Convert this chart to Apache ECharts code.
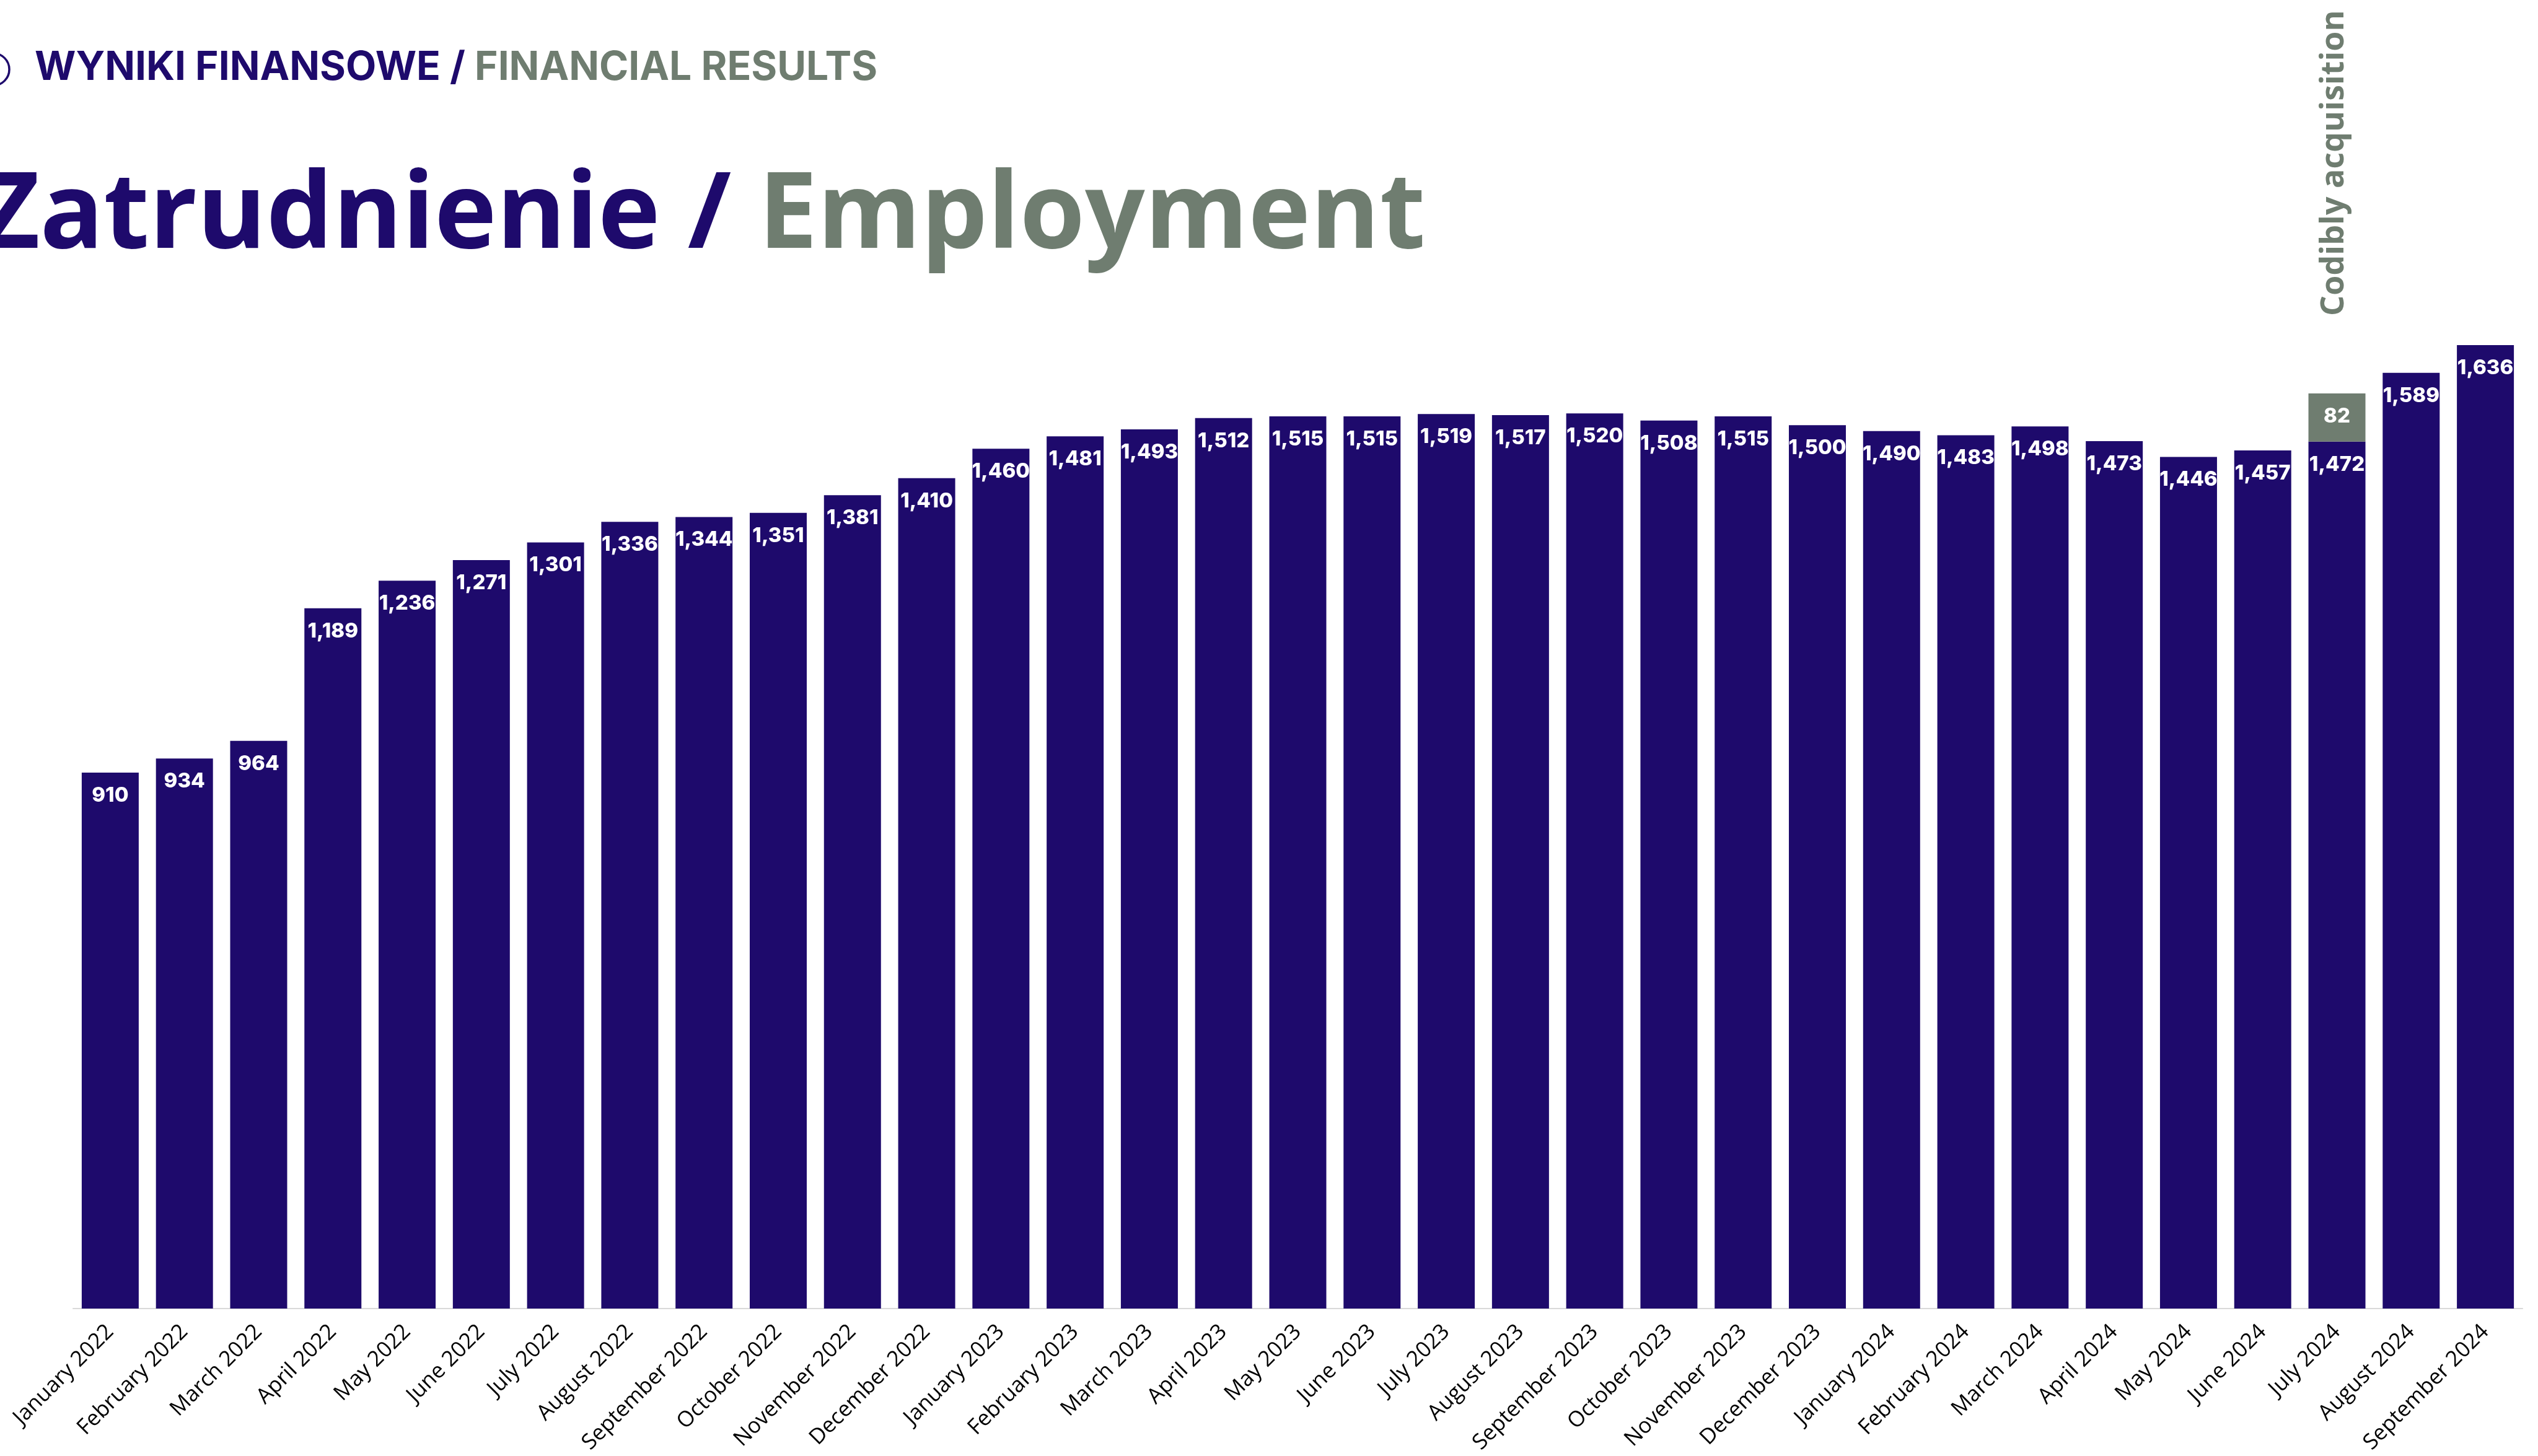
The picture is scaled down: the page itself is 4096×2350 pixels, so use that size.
<!DOCTYPE html>
<html>
<head>
<meta charset="utf-8">
<script src="https://cdn.jsdelivr.net/npm/echarts@6/dist/echarts.min.js"></script>
<style>
html,body{margin:0;padding:0;background:#ffffff;}
#chart{width:4096px;height:2350px;}
</style>
</head>
<body>
<div id="chart"></div>
<script>
const categories = [
  'January 2022','February 2022','March 2022','April 2022','May 2022','June 2022',
  'July 2022','August 2022','September 2022','October 2022','November 2022','December 2022',
  'January 2023','February 2023','March 2023','April 2023','May 2023','June 2023',
  'July 2023','August 2023','September 2023','October 2023','November 2023','December 2023',
  'January 2024','February 2024','March 2024','April 2024','May 2024','June 2024',
  'July 2024','August 2024','September 2024'
];
const headcount = [
  910, 934, 964, 1189, 1236, 1271,
  1301, 1336, 1344, 1351, 1381, 1410,
  1460, 1481, 1493, 1512, 1515, 1515,
  1519, 1517, 1520, 1508, 1515, 1500,
  1490, 1483, 1498, 1473, 1446, 1457,
  1472, 1589, 1636
];
const acquisition = [
  null, null, null, null, null, null,
  null, null, null, null, null, null,
  null, null, null, null, null, null,
  null, null, null, null, null, null,
  null, null, null, null, null, null,
  82, null, null
];
const acquisitionNote = 'Codibly acquisition';
const headerPL = 'WYNIKI FINANSOWE /';
const headerEN = 'FINANCIAL RESULTS';
const titlePL = 'Zatrudnienie /';
const titleEN = 'Employment';

const NAVY = '#1E0A6C';
const GREY = '#6F7D70';

const chart = echarts.init(document.getElementById('chart'), null, {renderer: 'canvas'});

const valueLabel = {
  show: true,
  position: 'insideTop',
  distance: 20,
  color: '#ffffff',
  fontFamily: 'Inter',
  fontWeight: 800,
  fontSize: 33,
  lineHeight: 34,
  formatter: p => p.value == null ? '' : Number(p.value).toLocaleString('en-US')
};

const option = {
  backgroundColor: '#ffffff',
  animation: false,
  title: [
    {
      left: 56, top: 70, padding: 0,
      text: '{a|' + headerPL + '} {b|' + headerEN + '}',
      textStyle: {
        fontFamily: 'Inter', fontWeight: 700, fontSize: 64, lineHeight: 80, color: NAVY,
        rich: {
          a: {fontFamily: 'Inter', fontWeight: 700, fontSize: 64, lineHeight: 80, color: NAVY},
          b: {fontFamily: 'Inter', fontWeight: 700, fontSize: 64, lineHeight: 80, color: GREY}
        }
      }
    },
    {
      left: -34, top: 252, padding: 0,
      text: '{a|' + titlePL + '} {b|' + titleEN + '}',
      textStyle: {
        fontFamily: 'Open Sans', fontWeight: 700, fontSize: 170, lineHeight: 200, color: NAVY,
        rich: {
          a: {fontFamily: 'Open Sans', fontWeight: 700, fontSize: 170, lineHeight: 200, color: NAVY},
          b: {fontFamily: 'Open Sans', fontWeight: 700, fontSize: 170, lineHeight: 200, color: GREY}
        }
      }
    }
  ],
  grid: {left: 118, right: 25, top: 211, bottom: 238, containLabel: false},
  xAxis: {
    type: 'category',
    data: categories,
    axisLine: {show: true, lineStyle: {color: '#D9D9D9', width: 2}},
    axisTick: {show: false},
    axisLabel: {
      interval: 0, rotate: 45, margin: 32,
      fontFamily: 'Open Sans', fontSize: 35, color: '#000000'
    },
    splitLine: {show: false}
  },
  yAxis: {type: 'value', min: 0, max: 2000, show: false, splitLine: {show: false}},
  series: [
    {
      name: 'Headcount', type: 'bar', stack: 'total', data: headcount,
      barWidth: 92,
      itemStyle: {color: NAVY},
      label: valueLabel
    },
    {
      name: 'Acquisition', type: 'bar', stack: 'total', data: acquisition,
      barWidth: 92,
      itemStyle: {color: GREY},
      label: valueLabel
    }
  ],
  graphic: [
    {
      type: 'circle', id: 'icon',
      shape: {cx: -11, cy: 112, r: 26},
      style: {fill: 'none', stroke: NAVY, lineWidth: 3.5}
    }
  ]
};
chart.setOption(option);

// Annotation anchored on the top of the stacked July 2024 bar
const idx = acquisition.findIndex(v => v != null);
const topVal = headcount[idx] + acquisition[idx];
const pt = chart.convertToPixel({gridIndex: 0}, [idx, topVal]);
chart.setOption({
  graphic: [
    {
      type: 'text', id: 'note',
      x: pt[0] - 4, y: pt[1] - 125, rotation: Math.PI / 2,
      style: {
        text: acquisitionNote, fill: GREY,
        font: '700 52px "Open Sans"',
        align: 'left', verticalAlign: 'middle'
      }
    }
  ]
});
</script>
</body>
</html>
